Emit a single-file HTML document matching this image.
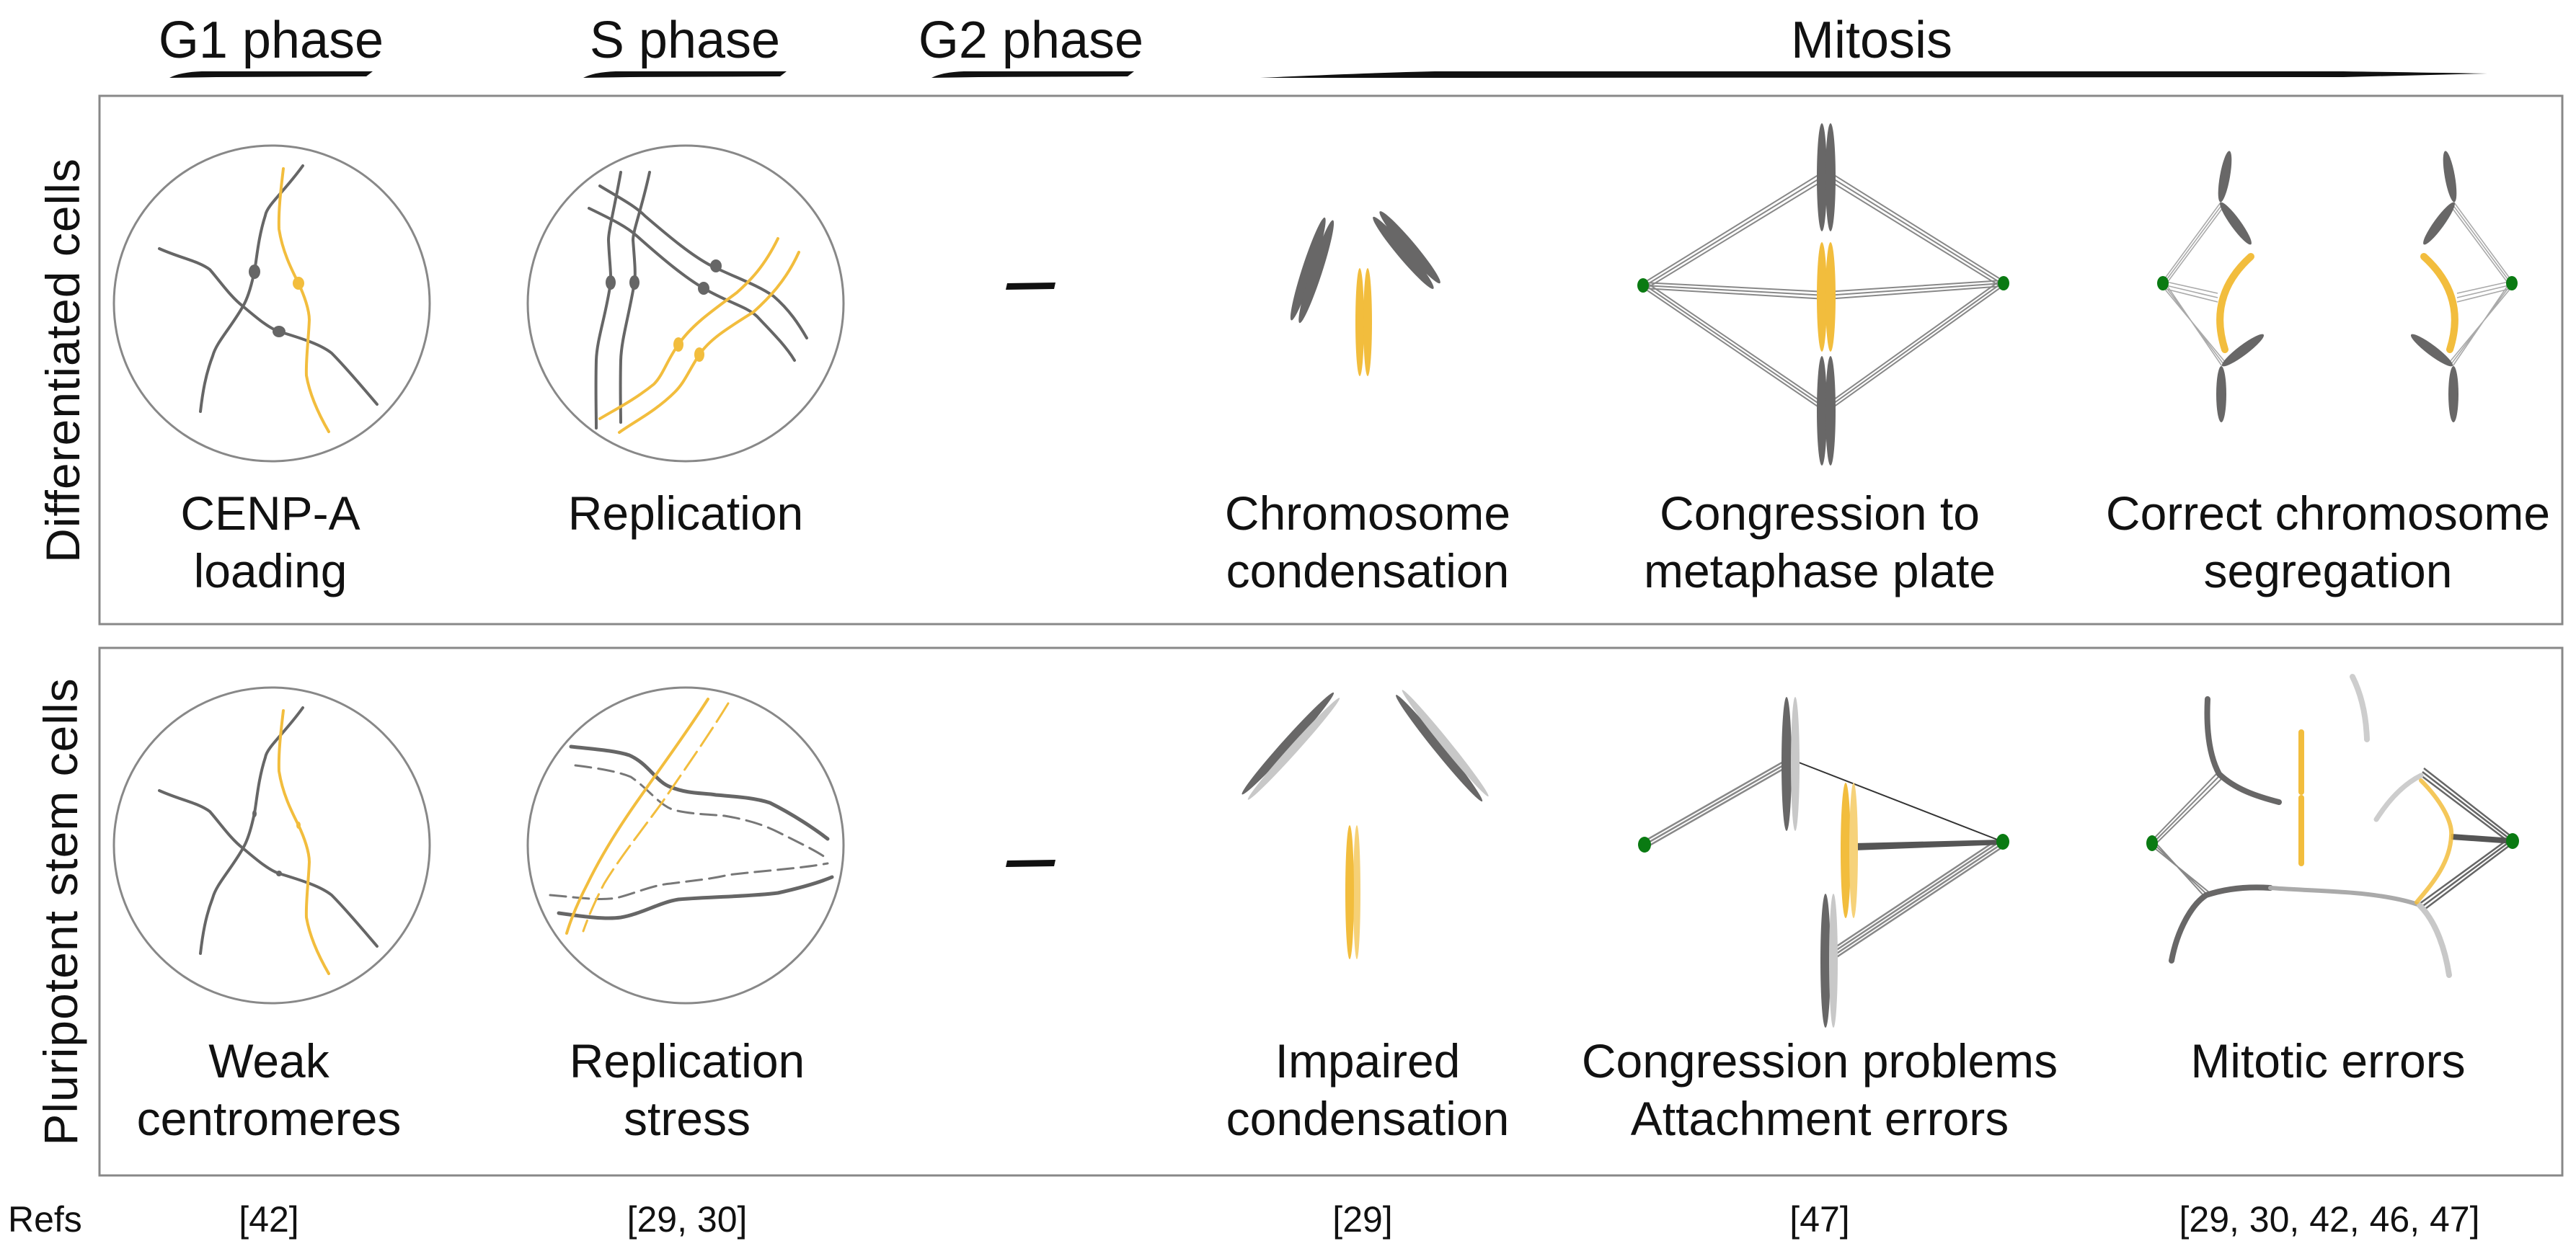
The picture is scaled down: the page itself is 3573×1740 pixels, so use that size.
<!DOCTYPE html>
<html><head><meta charset="utf-8"><style>
html,body{margin:0;padding:0;background:#fff;}
svg{display:block;}
text{font-family:"Liberation Sans",sans-serif;fill:#111;}
</style></head><body>
<svg width="3573" height="1740" viewBox="0 0 3573 1740" xmlns="http://www.w3.org/2000/svg">
<defs>
<g id="sp3"><line x1="0" y1="-5" x2="1" y2="-5"/><line x1="0" y1="0" x2="1" y2="0"/><line x1="0" y1="5" x2="1" y2="5"/></g>
</defs>
<rect width="3573" height="1740" fill="#fff"/>

<!-- headers -->
<g font-size="72" text-anchor="middle">
<text x="376" y="80">G1 phase</text>
<text x="950" y="80">S phase</text>
<text x="1430" y="80">G2 phase</text>
<text x="2596" y="80">Mitosis</text>
</g>
<g fill="#111">
<path d="M235,108 Q250,100 280,99 L517,99 L508,106 L300,107 Z"/>
<path d="M809,108 Q824,100 854,99 L1091,99 L1082,106 L874,107 Z"/>
<path d="M1292,108 Q1307,100 1337,99 L1573,99 L1564,106 L1357,107 Z"/>
<path d="M1748,108 Q1900,101 1990,99 L3250,99 Q3380,101 3450,102 L3250,107 L1990,108 Z"/>
</g>

<!-- boxes -->
<rect x="138" y="133" width="3416" height="733" fill="none" stroke="#888" stroke-width="3"/>
<rect x="138" y="899" width="3416" height="732" fill="none" stroke="#888" stroke-width="3"/>

<!-- row labels -->
<g font-size="66" text-anchor="middle">
<text transform="translate(110,500) rotate(-90)" letter-spacing="1">Differentiated cells</text>
<text transform="translate(107,1265) rotate(-90)" letter-spacing="1">Pluripotent stem cells</text>
</g>

<!-- row 1 labels -->
<g font-size="66" text-anchor="middle">
<text x="375" y="735">CENP-A</text><text x="375" y="815">loading</text>
<text x="951" y="735">Replication</text>
<text x="1897" y="735">Chromosome</text><text x="1897" y="815">condensation</text>
<text x="2524" y="735">Congression to</text><text x="2524" y="815">metaphase plate</text>
<text x="3229" y="735">Correct chromosome</text><text x="3229" y="815">segregation</text>
<text x="373" y="1495">Weak</text><text x="373" y="1575">centromeres</text>
<text x="953" y="1495">Replication</text><text x="953" y="1575">stress</text>
<text x="1897" y="1495">Impaired</text><text x="1897" y="1575">condensation</text>
<text x="2524" y="1495">Congression problems</text><text x="2524" y="1575">Attachment errors</text>
<text x="3229" y="1495">Mitotic errors</text>
</g>
<g font-size="50">
<text x="11" y="1709">Refs</text>
<g text-anchor="middle">
<text x="373" y="1709">[42]</text>
<text x="953" y="1709">[29, 30]</text>
<text x="1890" y="1709">[29]</text>
<text x="2524" y="1709">[47]</text>
<text x="3231" y="1709">[29, 30, 42, 46, 47]</text>
</g></g>

<!-- G2 dashes -->
<path d="M1397,393 L1464,392 L1462,401 L1395,402 Z" fill="#111"/>
<path d="M1397,1194 L1464,1193 L1462,1202 L1395,1203 Z" fill="#111"/>

<!-- circles -->
<g fill="none" stroke="#888" stroke-width="3">
<circle cx="377" cy="421" r="219"/>
<circle cx="951" cy="421" r="219"/>
<circle cx="377" cy="1173" r="219"/>
<circle cx="951" cy="1173" r="219"/>
</g>

<!-- circle1 content (row1) -->
<g id="c1" fill="none" stroke-width="4" stroke-linecap="round">
<path stroke="#666" d="M420,230 C395,265 370,285 368,299 C358,330 356,360 353,376 C348,400 343,415 337,425 C320,455 300,475 295,494 C285,520 281,545 278,571"/>
<path stroke="#666" d="M221,345 C250,358 275,362 291,374 C305,390 320,412 337,425 C355,440 372,455 387,460 C420,470 445,478 460,490 C480,510 505,540 523,561"/>
<path stroke="#f2bd3d" d="M393,234 C390,260 386,290 387,318 C392,350 405,375 414,393 C422,410 429,430 429,444 C428,470 424,500 425,521 C430,550 445,580 456,599"/>
</g>
<g>
<ellipse cx="353" cy="377" rx="8" ry="10" fill="#666"/>
<ellipse cx="387" cy="460" rx="9" ry="8" fill="#666"/>
<ellipse cx="414" cy="393" rx="8" ry="9" fill="#f2bd3d"/>
</g>
<!-- circle1 row2 -->
<g transform="translate(0,752)" fill="none" stroke-width="4" stroke-linecap="round">
<path stroke="#666" d="M420,230 C395,265 370,285 368,299 C358,330 356,360 353,376 C348,400 343,415 337,425 C320,455 300,475 295,494 C285,520 281,545 278,571"/>
<path stroke="#666" d="M221,345 C250,358 275,362 291,374 C305,390 320,412 337,425 C355,440 372,455 387,460 C420,470 445,478 460,490 C480,510 505,540 523,561"/>
<path stroke="#f2bd3d" d="M393,234 C390,260 386,290 387,318 C392,350 405,375 414,393 C422,410 429,430 429,444 C428,470 424,500 425,521 C430,550 445,580 456,599"/>
<ellipse cx="353" cy="377" rx="3" ry="5" fill="#666" stroke="none"/>
<ellipse cx="387" cy="460" rx="4" ry="4" fill="#666" stroke="none"/>
<ellipse cx="414" cy="393" rx="3" ry="5" fill="#f2bd3d" stroke="none"/>
</g>

<!-- circle2 row1 -->
<g fill="none" stroke-width="4" stroke-linecap="round">
<path stroke="#666" d="M861,239 C852,290 844,320 844,333 C845,360 848,380 847,392 C840,440 828,470 827,500 C826,540 827,570 827,594"/>
<path stroke="#666" d="M901,239 C890,290 878,320 878,333 C880,360 882,380 880,392 C872,440 862,470 861,500 C860,540 861,570 861,586"/>
<path stroke="#666" d="M832,258 C860,275 880,285 895,300 C930,330 960,355 987,369 C1020,385 1050,395 1073,411 C1095,430 1108,450 1119,469"/>
<path stroke="#666" d="M817,289 C850,305 870,315 884,328 C920,360 950,385 976,400 C1010,420 1035,425 1050,439 C1070,460 1090,480 1102,500"/>
<path stroke="#f2bd3d" d="M1079,331 C1060,370 1040,390 1022,406 C990,430 960,450 941,478 C925,500 920,520 907,533 C880,555 850,570 832,581"/>
<path stroke="#f2bd3d" d="M1108,350 C1090,390 1065,415 1045,433 C1010,455 985,470 970,492 C955,515 950,530 936,544 C910,570 880,585 859,600"/>
</g>
<g>
<ellipse cx="847" cy="392" rx="7" ry="10" fill="#666"/>
<ellipse cx="880" cy="392" rx="7" ry="10" fill="#666"/>
<ellipse cx="993" cy="369" rx="8" ry="9" fill="#666"/>
<ellipse cx="976" cy="400" rx="8" ry="9" fill="#666"/>
<ellipse cx="941" cy="478" rx="7" ry="10" fill="#f2bd3d"/>
<ellipse cx="970" cy="492" rx="7" ry="10" fill="#f2bd3d"/>
</g>

<!-- circle2 row2 (replication stress) -->
<g fill="none" stroke-linecap="round">
<path stroke="#666" stroke-width="5" d="M792,1036 C830,1040 855,1042 873,1048 C900,1060 910,1085 930,1092 C955,1102 975,1100 993,1103 C1030,1106 1050,1108 1068,1114 C1100,1130 1130,1150 1148,1164"/>
<path stroke="#777" stroke-width="3" stroke-dasharray="22,10" d="M798,1062 C830,1066 855,1070 875,1078 C900,1095 915,1118 935,1124 C960,1130 985,1130 1005,1132 C1040,1138 1060,1145 1080,1155 C1110,1170 1135,1182 1148,1192"/>
<path stroke="#666" stroke-width="5" d="M775,1267 C810,1272 840,1276 861,1273 C890,1268 915,1252 941,1248 C990,1244 1040,1244 1079,1239 C1110,1232 1135,1225 1154,1217"/>
<path stroke="#777" stroke-width="3" stroke-dasharray="22,10" d="M763,1242 C800,1245 830,1250 855,1246 C880,1240 905,1228 930,1226 C960,1222 985,1220 1010,1214 C1060,1208 1110,1205 1148,1198"/>
<path stroke="#f2bd3d" stroke-width="4" d="M982,970 C950,1020 920,1060 890,1103 C860,1145 835,1185 815,1226 C800,1255 792,1275 786,1295"/>
<path stroke="#f2bd3d" stroke-width="3" stroke-dasharray="30,10" d="M1010,976 C980,1025 948,1070 918,1114 C888,1155 860,1190 838,1226 C823,1255 815,1275 809,1292"/>
</g>

<!-- row1: chromosome condensation -->
<g fill="#686767">
<g transform="translate(1820,375) rotate(18)"><ellipse cx="-6" cy="0" rx="8" ry="75"/><ellipse cx="6" cy="0" rx="8" ry="75"/></g>
<g transform="translate(1951,347) rotate(-40)"><ellipse cx="-6" cy="0" rx="8" ry="65"/><ellipse cx="6" cy="0" rx="8" ry="65"/></g>
</g>
<g fill="#f2bd3d"><ellipse cx="1886" cy="447" rx="6" ry="75"/><ellipse cx="1897" cy="447" rx="6" ry="75"/></g>

<!-- row1: congression to metaphase -->
<g stroke="#888" stroke-width="2" fill="none">
<path d="M2279,393 L2533,236 M2279,398 L2533,242 M2279,403 L2533,248"/>
<path d="M2279,389 L2533,562 M2279,394 L2533,567 M2279,399 L2533,572"/>
<path d="M2779,390 L2533,236 M2779,395 L2533,242 M2779,400 L2533,248"/>
<path d="M2779,386 L2533,562 M2779,391 L2533,567 M2779,396 L2533,572"/>
<path d="M2279,392 L2533,405 M2279,396 L2533,410 M2279,400 L2533,415"/>
<path d="M2779,389 L2533,405 M2779,393 L2533,410 M2779,397 L2533,415"/>
</g>
<g fill="#686767">
<ellipse cx="2527" cy="246" rx="7" ry="75"/><ellipse cx="2539" cy="246" rx="7" ry="75"/>
<ellipse cx="2527" cy="570" rx="7" ry="76"/><ellipse cx="2539" cy="570" rx="7" ry="76"/>
</g>
<g fill="#f2bd3d"><ellipse cx="2527" cy="412" rx="7" ry="76"/><ellipse cx="2539" cy="412" rx="7" ry="76"/></g>
<g fill="#0a7a12"><ellipse cx="2279" cy="396" rx="8" ry="10"/><ellipse cx="2779" cy="393" rx="8" ry="10"/></g>

<!-- row1: correct segregation -->
<g id="seg">
<g stroke="#aaa" stroke-width="1.6" fill="none">
<path d="M3000,390 L3080,281 M3000,395 L3082,284 M3000,400 L3084,287"/>
<path d="M3000,388 L3082,508 M3000,393 L3084,505 M3000,398 L3086,502"/>
<path d="M3000,390 L3076,407 M3000,395 L3076,413 M3000,400 L3076,419"/>
</g>
<g fill="#686767">
<ellipse cx="0" cy="0" rx="36" ry="7" transform="translate(3086,245) rotate(-80)"/>
<ellipse cx="0" cy="0" rx="36" ry="7" transform="translate(3101,310) rotate(54)"/>
<ellipse cx="0" cy="0" rx="36" ry="7" transform="translate(3111,486) rotate(-37)"/>
<ellipse cx="0" cy="0" rx="39" ry="7" transform="translate(3081,547) rotate(90)"/>
</g>
<path d="M3122,356 Q3062,410 3086,485" stroke="#f2bd3d" stroke-width="10" fill="none" stroke-linecap="round"/>
<ellipse cx="3000" cy="393" rx="8" ry="10" fill="#0a7a12"/>
</g>
<use href="#seg" transform="translate(6484,0) scale(-1,1)"/>

<!-- row2: impaired condensation -->
<g transform="translate(2000,1035) rotate(-39)"><ellipse cx="-5" cy="0" rx="7" ry="95" fill="#686767"/><ellipse cx="6" cy="0" rx="6" ry="95" fill="#c8c8c8"/></g>
<g transform="translate(1790,1035) rotate(42)"><ellipse cx="-5" cy="0" rx="7" ry="95" fill="#686767"/><ellipse cx="6" cy="0" rx="6" ry="95" fill="#c8c8c8"/></g>
<g fill="#f2bd3d"><ellipse cx="1872" cy="1238" rx="6" ry="93"/><ellipse cx="1882" cy="1238" rx="5" ry="93" opacity="0.7"/></g>

<!-- row2: congression problems -->
<g stroke="#888" stroke-width="2.5" fill="none">
<path d="M2281,1167 L2484,1051 M2281,1172 L2484,1056 M2281,1177 L2484,1061"/>
<path d="M2778,1160 L2540,1318 M2778,1165 L2540,1323 M2778,1170 L2540,1328 M2778,1175 L2540,1333"/>
</g>
<line x1="2490" y1="1056" x2="2778" y2="1168" stroke="#333" stroke-width="2"/>
<path d="M2572,1170 L2778,1165 L2778,1172 L2572,1180 Z" fill="#555"/>
<g>
<ellipse cx="2478" cy="1060" rx="7" ry="93" fill="#686767"/><ellipse cx="2490" cy="1060" rx="6" ry="93" fill="#c8c8c8"/>
<ellipse cx="2532" cy="1333" rx="7" ry="93" fill="#686767"/><ellipse cx="2543" cy="1333" rx="6" ry="93" fill="#c8c8c8"/>
<ellipse cx="2560" cy="1180" rx="7" ry="94" fill="#f2bd3d"/><ellipse cx="2571" cy="1180" rx="6" ry="94" fill="#f6d27a"/>
</g>
<g fill="#0a7a12"><ellipse cx="2281" cy="1172" rx="9" ry="11"/><ellipse cx="2778" cy="1168" rx="9" ry="11"/></g>

<!-- row2: mitotic errors -->
<g stroke="#888" stroke-width="2" fill="none">
<path d="M2985,1166 L3076,1072 M2985,1171 L3080,1075 M2985,1176 L3084,1078"/>
<path d="M2985,1164 L3056,1242 M2985,1169 L3060,1240 M2985,1174 L3064,1238"/>
</g>
<g stroke="#666" stroke-width="2.5" fill="none">
<path d="M3485,1162 L3362,1066 M3485,1167 L3360,1071 M3485,1172 L3358,1076"/>
<path d="M3485,1160 L3356,1254 M3485,1165 L3358,1259 M3485,1170 L3360,1264"/>
</g>
<path d="M3400,1157 L3485,1163 L3485,1171 L3400,1165 Z" fill="#555"/>
<g fill="none" stroke-linecap="round">
<path d="M3062,970 C3060,1010 3064,1048 3078,1074 C3100,1095 3130,1105 3161,1113" stroke="#686767" stroke-width="8"/>
<path d="M3012,1333 C3020,1290 3040,1255 3060,1242 C3090,1232 3120,1230 3149,1232" stroke="#686767" stroke-width="8"/>
<path d="M3149,1232 C3190,1235 3230,1236 3265,1239 C3300,1242 3335,1248 3356,1256" stroke="#aaa" stroke-width="6"/>
<path d="M3356,1256 C3380,1280 3392,1320 3397,1353" stroke="#c8c8c8" stroke-width="8"/>
<path d="M3263,939 C3276,965 3282,995 3283,1026" stroke="#cdcdcd" stroke-width="8"/>
<path d="M3358,1076 C3330,1090 3310,1115 3296,1137" stroke="#cdcdcd" stroke-width="7"/>
<path d="M3358,1083 C3385,1110 3402,1140 3400,1160 C3398,1200 3370,1230 3352,1252" stroke="#f2bd3d" stroke-width="6" opacity="0.85"/>
<path d="M3192,1016 L3192,1099 M3192,1107 L3192,1198" stroke="#f2bd3d" stroke-width="8"/>
</g>
<g fill="#0a7a12"><ellipse cx="2985" cy="1170" rx="8" ry="11"/><ellipse cx="3485" cy="1167" rx="9" ry="11"/></g>
</svg>
</body></html>
